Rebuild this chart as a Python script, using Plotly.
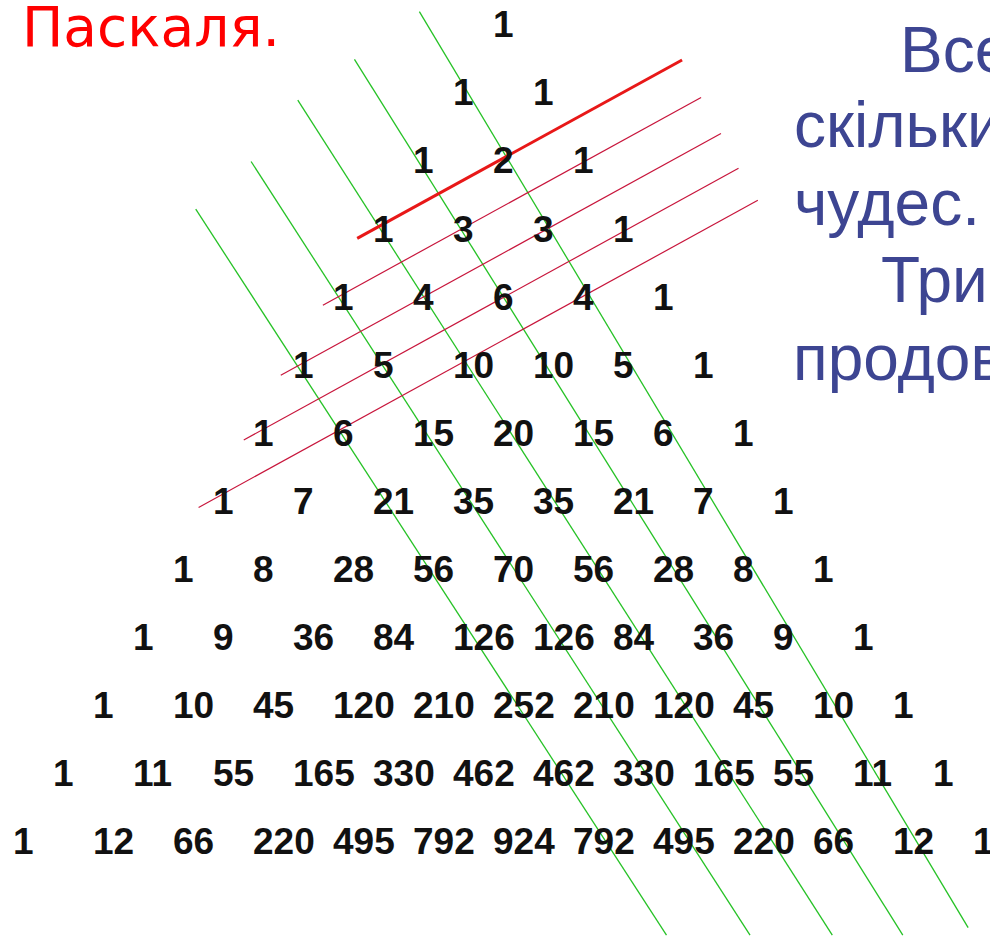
import plotly.graph_objects as go

# ---- data: Pascal's triangle rows ----
row_values = [
    [1],
    [1, 1],
    [1, 2, 1],
    [1, 3, 3, 1],
    [1, 4, 6, 4, 1],
    [1, 5, 10, 10, 5, 1],
    [1, 6, 15, 20, 15, 6, 1],
    [1, 7, 21, 35, 35, 21, 7, 1],
    [1, 8, 28, 56, 70, 56, 28, 8, 1],
    [1, 9, 36, 84, 126, 126, 84, 36, 9, 1],
    [1, 10, 45, 120, 210, 252, 210, 120, 45, 10, 1],
    [1, 11, 55, 165, 330, 462, 462, 330, 165, 55, 11, 1],
    [1, 12, 66, 220, 495, 792, 924, 792, 495, 220, 66, 12, 1],
]

# green lines follow the diagonals k = n - d
green_diag = [1, 2, 3, 4, 5]
green_row_start = [-0.24, 0.46, 1.06, 1.96, 2.66]
green_row_end = [13.21, 13.32, 13.32, 13.32, 13.32]

# red lines follow the shallow diagonals n + k = m (Fibonacci sums)
red_sum = [3, 4, 5, 6, 7]
red_row_start = [3.09, 4.07, 5.10, 6.05, 7.04]
red_row_end = [0.47, 1.02, 1.55, 2.06, 2.53]

title_text = "Паскаля."
side_lines = ["Все", "скільки", "чудес.", "Три", "продов"]

# ---- drawing parameters (positions/styles) ----
green_shift = [0.282, 0.287, 0.342, 0.292, 0.232]
green_skew = [0.01, 0.033, 0.045, 0.049, 0.052]
red_shift = [0.092, 0.182, 0.252, 0.262, 0.232]
red_slope = -1.55

W, H = 990, 941
PX_PER_COL = 80.0
X0_PX = 493.0
ROW0_PX = 28.0
PX_PER_ROW = 68.1

fig = go.Figure()

# green diagonal lines
for i, d in enumerate(green_diag):
    rows = [green_row_start[i], green_row_end[i]]
    xs = [n / 2 - d + green_shift[i] + green_skew[i] * (n - 8) for n in rows]
    fig.add_trace(go.Scatter(x=xs, y=rows, mode="lines",
                             line=dict(color="#26C226", width=1.3),
                             hoverinfo="skip", showlegend=False))

# red shallow-diagonal lines
for i, m in enumerate(red_sum):
    rows = [red_row_start[i], red_row_end[i]]
    xs = [m + red_slope * n + red_shift[i] for n in rows]
    thick = (i == 0)
    fig.add_trace(go.Scatter(x=xs, y=rows, mode="lines",
                             line=dict(color="#E81818" if thick else "#C8163C",
                                       width=3 if thick else 1.2),
                             hoverinfo="skip", showlegend=False))

# numbers
xs, ys, texts = [], [], []
for n, row in enumerate(row_values):
    for k, v in enumerate(row):
        xs.append(k - n / 2)
        ys.append(n)
        texts.append(str(v))
fig.add_trace(go.Scatter(x=xs, y=ys, text=texts, mode="text",
                         textposition="middle right",
                         textfont=dict(family="Liberation Sans, Arial", size=37,
                                       color="#111111", weight="bold"),
                         hoverinfo="skip", showlegend=False))

annotations = [
    dict(text=title_text, x=20 / W, y=1 - 27 / H, xref="paper", yref="paper",
         xanchor="left", yanchor="middle", showarrow=False,
         font=dict(family="DejaVu Sans", size=55, color="#FF0000")),
]
side_x = [898, 792, 792, 879, 791]
side_base = [72, 147, 225, 302, 380]
for t, sx, sb in zip(side_lines, side_x, side_base):
    annotations.append(dict(text=t, x=sx / W, y=1 - (sb - 22) / H,
                            xref="paper", yref="paper", xanchor="left",
                            yanchor="middle", showarrow=False,
                            font=dict(family="Liberation Sans, Arial", size=64,
                                      color="#3D4592")))

fig.update_layout(
    width=W, height=H,
    margin=dict(l=0, r=0, t=0, b=0),
    paper_bgcolor="white", plot_bgcolor="white",
    xaxis=dict(range=[-X0_PX / PX_PER_COL, (W - X0_PX) / PX_PER_COL],
               visible=False, fixedrange=True),
    yaxis=dict(range=[(H - ROW0_PX) / PX_PER_ROW, -ROW0_PX / PX_PER_ROW],
               visible=False, fixedrange=True),
    annotations=annotations,
    showlegend=False,
)

fig.write_html("out.html", config={"displayModeBar": False},
               post_script="document.body.style.margin='0';document.body.style.overflow='hidden';")
